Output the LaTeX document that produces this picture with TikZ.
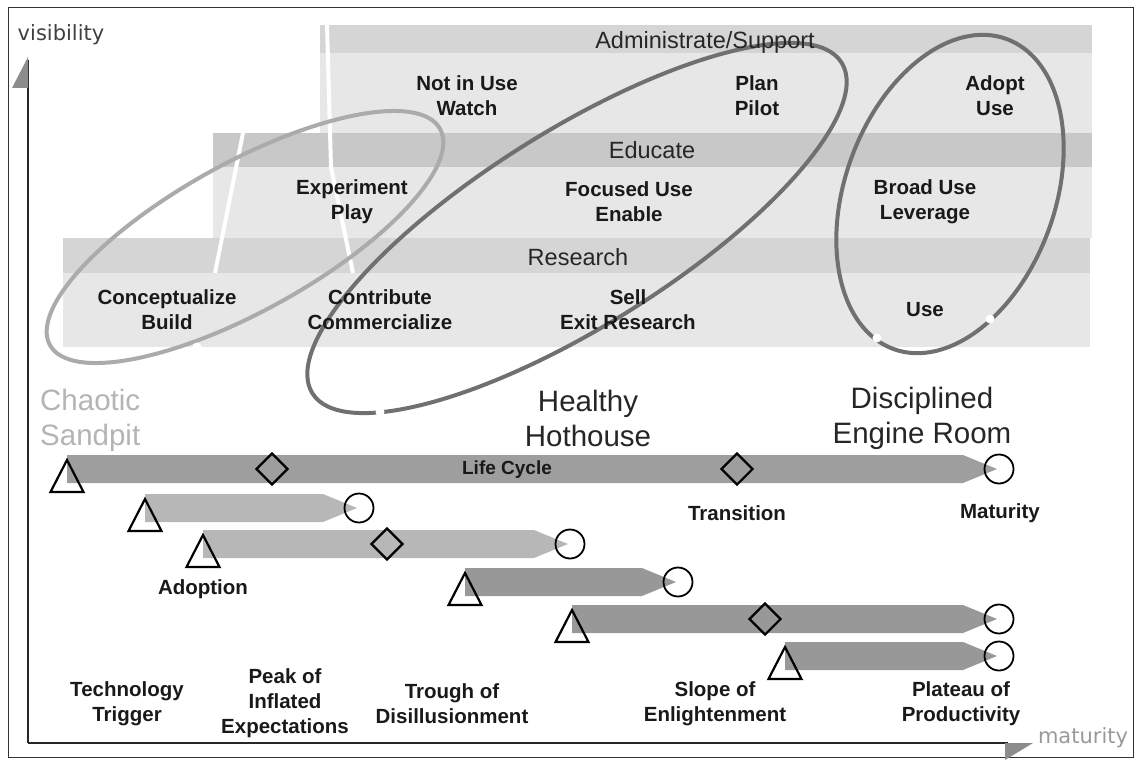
\documentclass[tikz,border=0pt]{standalone}
\usepackage{fontspec}
\setmainfont{Liberation Sans}
\newfontfamily\axisfont{DejaVu Sans}
\usetikzlibrary{shapes.geometric,calc}

\definecolor{stripgray}{HTML}{D5D5D5}
\definecolor{educgray}{HTML}{C8C8C8}
\definecolor{lightgray}{HTML}{E7E7E7}
\definecolor{ringlight}{HTML}{ABABAB}
\definecolor{ringdark}{HTML}{707070}
\definecolor{barA}{HTML}{9E9E9E}
\definecolor{barB}{HTML}{B7B7B7}
\definecolor{barC}{HTML}{989898}
\definecolor{chaoticgray}{HTML}{B4B4B4}

% pencil shaped bar from start coordinate to end coordinate
\newcommand{\lcbar}[3]{%
	\fill[#3] ($(#1)+(0,-14)$) -- ($(#2)+(-36,-14)$) -- ($(#2)+(-2,0)$)
		-- ($(#2)+(-36,14)$) -- ($(#1)+(0,14)$) -- cycle;}

\tikzset{
	item/.style={font=\bfseries\fontsize{20.5}{25}\selectfont,align=center,inner sep=0pt,text=black!90},
	lane/.style={font=\fontsize{23.5}{28}\selectfont,inner sep=0pt,text=black!85,anchor=base},
	stage/.style={font=\fontsize{29.5}{35}\selectfont,align=center,inner sep=0pt,text=black!85},
	ring/.style={draw=#1,line width=4pt},
	seam/.style={white,line width=4pt},
	milestone/.style={diamond,draw,line width=2.2pt,minimum size=32pt,inner sep=0pt},
	endmark/.style={circle,draw,line width=1.8pt,minimum size=29pt,inner sep=0pt},
	axisline/.style={black!85,line width=1.6pt},
	pics/startmark/.style={code={
		\draw[line width=2.2pt,line join=miter] (0,-9) -- (-16.5,23) -- (16.5,23) -- cycle;}}
}

\begin{document}
\begin{tikzpicture}[x=1pt,y=-1pt]
	\useasboundingbox (0,0) rectangle (1140,765);
	\draw[black!80,line width=1pt] (8,8) rectangle (1133,757);
	% bands
	\fill[lightgray] (320,53) rectangle (1092,133);
	\fill[stripgray] (320,25) rectangle (1092,53);
	\fill[lightgray] (213,167) rectangle (1092,238);
	\fill[educgray] (213,133) rectangle (1092,167);
	\fill[lightgray] (63,273) rectangle (1090,347);
	\fill[stripgray] (63,238) rectangle (1090,273);
	\draw[seam] (327,25) -- (331,167) -- (353,273);
	\draw[seam] (243,133) -- (215,273);
	% groupings
	\draw[ring=ringlight,rotate around={29:(245,237)}] (245,237) ellipse [x radius=223pt,y radius=74pt];
	\draw[ring=ringdark,rotate around={32:(577,228)}] (577,228) ellipse [x radius=312pt,y radius=98pt];
	\draw[ring=ringdark,rotate around={70:(950,194)}] (950,194) ellipse [x radius=165pt,y radius=105pt];
	\foreach \p in {(197,347),(380,412),(877,338),(990,319)}
		\fill[white] \p circle (4.5);
	% lane labels
	\node[lane] (admin) at (705,49) {Administrate/Support};
	\node[lane] (educate) at (652,158) {Educate};
	\node[lane] (research) at (578,265) {Research};
	\node[item] (watch) at (467,96) {Not in Use\\Watch};
	\node[item] (pilot) at (757,96) {Plan\\Pilot};
	\node[item] (adopt) at (995,96) {Adopt\\Use};
	\node[item] (play) at (352,202) {Experiment\\Play};
	\node[item] (enable) at (629,202) {Focused Use\\Enable};
	\node[item] (leverage) at (925,202) {Broad Use\\Leverage};
	\node[item] (build) at (167,310) {Conceptualize\\Build};
	\node[item] (commerc) at (380,310) {Contribute\\Commercialize};
	\node[item] (exit) at (628,310) {Sell\\Exit Research};
	\node[item] (use) at (925,310) {Use};
	% stages
	\node[stage,text=chaoticgray,anchor=west,align=left] (sandpit) at (40,420) {Chaotic\\Sandpit};
	\node[stage] (hothouse) at (588,418) {Healthy\\Hothouse};
	\node[stage] (engine) at (922,418) {Disciplined\\Engine Room};
	% life cycle bars
	\foreach \n/\xs/\xe/\y/\col in {1/67/999/469/barA,2/145/359/508/barB,3/203/570/544/barB,
			4/465/678/582/barC,5/572/999/619/barC,6/785/999/656/barC}{
		\coordinate (s\n) at (\xs,\y);
		\coordinate (e\n) at (\xe,\y);
		\lcbar{s\n}{e\n}{\col}
		\pic at (s\n) {startmark};
		\node[endmark] (end\n) at (e\n) {};
	}
	\node[milestone] (d1) at (272,469) {};
	\node[milestone] (d2) at (737,469) {};
	\node[milestone] (d3) at (387,544) {};
	\node[milestone] (d4) at (765,619) {};
	\node[item,font=\bfseries\fontsize{19}{23}\selectfont] (lifecycle) at (507,470) {Life Cycle};
	\node[item] (transition) at (737,513) {Transition};
	\node[item] (maturity) at (1000,513) {Maturity};
	\node[item] (adoption) at (203,589) {Adoption};
	% hype cycle phases
	\node[item] (trigger) at (127,704) {Technology\\Trigger};
	\node[item] (peak) at (285,703) {Peak of\\Inflated\\Expectations};
	\node[item] (trough) at (452,704) {Trough of\\Disillusionment};
	\node[item] (slope) at (715,704) {Slope of\\Enlightenment};
	\node[item] (plateau) at (961,704) {Plateau of\\Productivity};
	% axes
	\coordinate (O) at (28,743);
	\coordinate (ytip) at (28,60);
	\coordinate (xtip) at (1008,743);
	\draw[axisline] (O) -- (ytip);
	\draw[axisline] (O) -- (xtip);
	\fill[black!45] (28,57) -- (12,88) -- (28,88) -- cycle;
	\fill[black!45] (1033,743) -- (1005,743) -- (1005,760) -- cycle;
	\node[font=\axisfont\fontsize{21}{25}\selectfont,text=black!75,inner sep=0pt] (vis) at (61,35) {visibility};
	\node[font=\axisfont\fontsize{21}{25}\selectfont,text=black!40,inner sep=0pt] (mat) at (1083,738) {maturity};
\end{tikzpicture}
\end{document}
